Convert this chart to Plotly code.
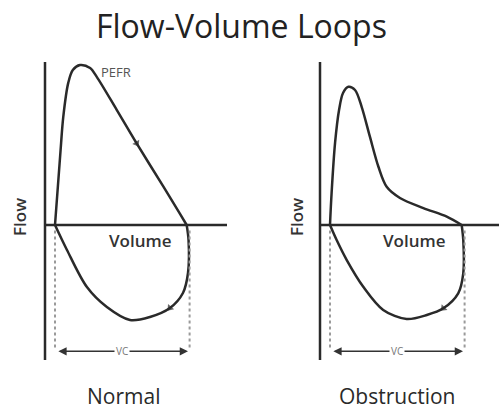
import plotly.graph_objects as go

# ---------------- data (volume in L, flow in L/s) ----------------
normal_exp_vol = [0, 0.21, 0.31, 0.50, 0.67, 0.94, 1.32, 1.57, 2.32, 3.07, 4.07, 4.70, 4.95]
normal_exp_flow = [0, 4.69, 6.75, 8.90, 9.69, 10.0, 9.81, 9.26, 7.20, 5.10, 2.41, 0.69, 0]
normal_insp_vol = [4.95, 5.02, 5.0, 4.81, 4.32, 3.57, 2.82, 1.95, 1.20, 0.45, 0]
normal_insp_flow = [0, -0.94, -3.0, -4.25, -5.19, -5.75, -5.94, -5.13, -3.88, -1.56, 0]

obst_exp_vol = [0, 0.06, 0.19, 0.34, 0.49, 0.69, 0.94, 1.19, 1.50, 1.82, 2.13, 2.63, 3.51, 4.39, 4.95]
obst_exp_flow = [0, 2.0, 5.13, 7.19, 8.25, 8.64, 8.44, 7.39, 5.52, 3.64, 2.39, 1.69, 1.06, 0.52, 0]
obst_insp_vol = [4.95, 5.01, 5.01, 4.82, 4.26, 3.64, 2.88, 2.0, 1.25, 0.63, 0.25, 0]
obst_insp_flow = [0, -0.94, -3.02, -4.27, -5.21, -5.63, -5.88, -5.31, -3.86, -2.19, -0.94, 0]

vc_normal = 5.0
vc_obst = 5.0
vc_arrow_flow = -7.9
vc_line_bottom = -7.7

titles = ["Normal", "Obstruction"]

# ---------------- layout helpers ----------------
W, H = 499, 409
def px(x):
    return x / W
def py(y):
    return 1 - y / H

CURVE = "#2a2a2a"
AX = "#2a2a2a"

fig = go.Figure()

def add_curve(xs, ys, xa, ya):
    fig.add_trace(go.Scatter(x=xs, y=ys, mode="lines", xaxis=xa, yaxis=ya,
                             line=dict(color=CURVE, width=2.5, shape="spline", smoothing=0.9),
                             hoverinfo="skip", showlegend=False))

def add_arrow(xs, ys, i, xa, ya):
    fig.add_trace(go.Scatter(x=[xs[i - 1], xs[i]], y=[ys[i - 1], ys[i]], mode="markers",
                             xaxis=xa, yaxis=ya,
                             marker=dict(symbol="triangle-up", size=[0, 7], color=CURVE,
                                         angleref="previous", line=dict(width=0)),
                             hoverinfo="skip", showlegend=False))

add_curve(normal_exp_vol, normal_exp_flow, "x", "y")
add_curve(normal_insp_vol, normal_insp_flow, "x", "y")
add_arrow(normal_exp_vol, normal_exp_flow, 9, "x", "y")
add_arrow(normal_insp_vol, normal_insp_flow, 4, "x", "y")

add_curve(obst_exp_vol, obst_exp_flow, "x2", "y2")
add_curve(obst_insp_vol, obst_insp_flow, "x2", "y2")
add_arrow(obst_insp_vol, obst_insp_flow, 4, "x2", "y2")

yrange = [-8.44, 10.19]
axis_common = dict(showgrid=False, zeroline=False, showticklabels=False, ticks="", showline=False)

fig.update_layout(
    width=W, height=H,
    margin=dict(l=0, r=0, t=0, b=0),
    paper_bgcolor="white", plot_bgcolor="rgba(0,0,0,0)",
    showlegend=False,
    xaxis=dict(domain=[px(45), px(227)], range=[-0.376, 6.466], anchor="y", **axis_common),
    yaxis=dict(domain=[py(360), py(62)], range=yrange, anchor="x", **axis_common),
    xaxis2=dict(domain=[px(320), 1.0], range=[-0.376, 6.353], anchor="y2", **axis_common),
    yaxis2=dict(domain=[py(360), py(62)], range=yrange, anchor="x2", **axis_common),
)

shapes = []
annotations = []
for xa, ya, vc in [("x", "y", vc_normal), ("x2", "y2", vc_obst)]:
    # vertical (flow) axis
    shapes.append(dict(type="line", xref=f"{xa} domain", yref=f"{ya} domain",
                       x0=0, x1=0, y0=0, y1=1, line=dict(color=AX, width=2.5)))
    # horizontal (volume) axis
    shapes.append(dict(type="line", xref=f"{xa} domain", yref=ya,
                       x0=0, x1=1, y0=0, y1=0, line=dict(color=AX, width=2.5)))
    # dotted VC guides
    for v in (0, vc + 0.06):
        shapes.append(dict(type="line", xref=xa, yref=ya, x0=v, x1=v, y0=-0.35, y1=vc_line_bottom,
                           line=dict(color="#9a9a9a", width=2, dash="dot")))
    # VC double-headed arrow
    annotations.append(dict(xref=xa, yref=ya, x=vc, y=vc_arrow_flow, axref=xa, ayref=ya,
                            ax=0.07, ay=vc_arrow_flow, text="", showarrow=True,
                            arrowside="end+start", arrowhead=2, arrowsize=1.1,
                            arrowwidth=1.5, arrowcolor="#333333"))
    annotations.append(dict(xref=xa, yref=ya, x=vc / 2, y=vc_arrow_flow, text="VC",
                            showarrow=False, bgcolor="white", borderpad=1,
                            font=dict(family="Open Sans", size=10, color="#777777")))

def label(text, x, y, size, color="#333333", angle=0, xanchor="center", family="Open Sans", weight=400):
    annotations.append(dict(xref="paper", yref="paper", x=px(x), y=py(y), text=text,
                            showarrow=False, textangle=angle, xanchor=xanchor, yanchor="middle",
                            font=dict(family=family, size=size, color=color, weight=weight)))

label("Flow-Volume Loops", 241, 26, 32, "#222222")
label("PEFR", 99, 72, 13, "#555555", xanchor="left")
label("Flow", 20, 217, 17, "#333333", angle=-90, weight=600)
label("Flow", 297, 217, 17, "#333333", angle=-90, weight=600)
label("Volume", 140, 240, 17, "#333333", weight=600)
label("Volume", 414, 240, 17, "#333333", weight=600)
label(titles[0], 123, 396, 21, "#2a2a2a")
label(titles[1], 397, 396, 21, "#2a2a2a")

fig.update_layout(shapes=shapes, annotations=annotations)

fig.write_html("out.html", post_script="document.body.style.margin='0px';",
               config={"displayModeBar": False})
